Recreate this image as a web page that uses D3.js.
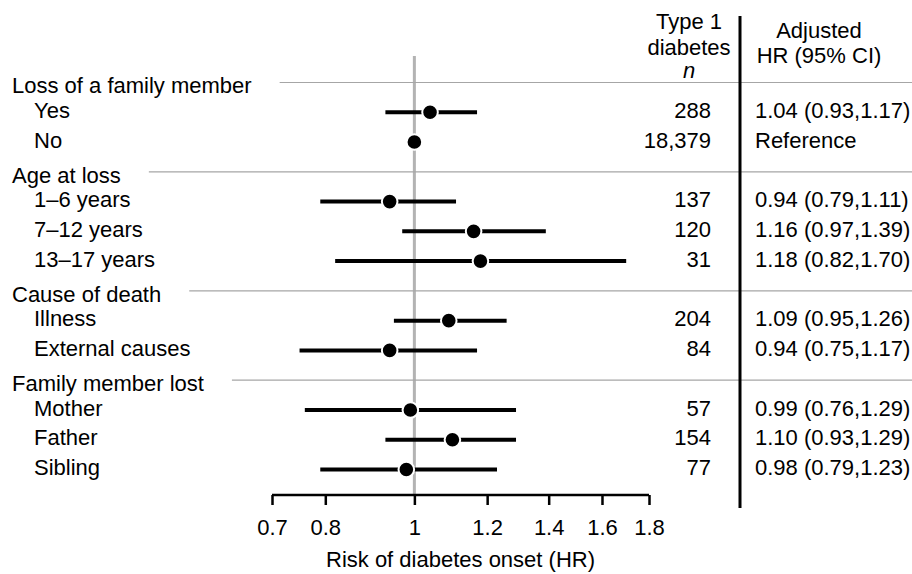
<!DOCTYPE html>
<html>
<head>
<meta charset="utf-8">
<script src="https://cdn.jsdelivr.net/npm/d3@7"></script>
<style>
  html, body { margin: 0; padding: 0; background: #fff; }
  svg text { font-family: "Liberation Sans", Arial, sans-serif; fill: #000; }
</style>
</head>
<body>
<svg id="chart" width="912" height="574"></svg>
<script>
// group headings and the rows under them
const groups = ['Loss of a family member', 'Age at loss', 'Cause of death', 'Family member lost'];
const categories = ['Yes', 'No', '1–6 years', '7–12 years', '13–17 years',
  'Illness', 'External causes', 'Mother', 'Father', 'Sibling'];
const categoryGroup = [0, 0, 1, 1, 1, 2, 2, 3, 3, 3];
const nCases = [288, 18379, 137, 120, 31, 204, 84, 57, 154, 77];
const hr = [1.04, 1.00, 0.94, 1.16, 1.18, 1.09, 0.94, 0.99, 1.10, 0.98];
const ciLow = [0.93, null, 0.79, 0.97, 0.82, 0.95, 0.75, 0.76, 0.93, 0.79];
const ciHigh = [1.17, null, 1.11, 1.39, 1.70, 1.26, 1.17, 1.29, 1.29, 1.23];
const isReference = [false, true, false, false, false, false, false, false, false, false];
const xTicks = [0.7, 0.8, 1, 1.2, 1.4, 1.6, 1.8];

const width = 912;
const fontSize = 22;

// flatten into display rows: heading then its categories
const rows = [];
groups.forEach((g, gi) => {
  rows.push({ header: true, label: g });
  categories.forEach((c, i) => {
    if (categoryGroup[i] === gi) {
      rows.push({ header: false, label: c, n: nCases[i], hr: hr[i],
        lo: ciLow[i], hi: ciHigh[i], ref: isReference[i] });
    }
  });
});

const svg = d3.select('#chart');

const x = d3.scaleLog().domain([0.7, 1.8]).range([272, 649]);
const y = d3.scalePoint().domain(d3.range(rows.length)).range([82.5, 469.5]);

const axisY = 495;
const nX = 711;
const dividerX = 740;
const hrX = 755;

// column headers
const nHead = svg.append('text')
  .attr('text-anchor', 'middle')
  .style('font-size', fontSize + 'px');
nHead.append('tspan').attr('x', 689).attr('y', 29).text('Type 1');
nHead.append('tspan').attr('x', 689).attr('y', 55).text('diabetes');
nHead.append('tspan').attr('x', 689).attr('y', 78).style('font-style', 'italic').text('n');

const hrHead = svg.append('text')
  .attr('text-anchor', 'middle')
  .style('font-size', fontSize + 'px');
hrHead.append('tspan').attr('x', 819).attr('y', 38).text('Adjusted');
hrHead.append('tspan').attr('x', 819).attr('y', 63).text('HR (95% CI)');

// reference line at HR = 1
svg.append('line')
  .attr('x1', x(1)).attr('x2', x(1))
  .attr('y1', 56).attr('y2', axisY)
  .attr('stroke', '#b3b3b3')
  .attr('stroke-width', 3);

// group headings with rule lines
const rowG = svg.selectAll('.row')
  .data(rows)
  .enter()
  .append('g')
  .attr('class', 'row');

rowG.filter(d => d.header).each(function(d) {
  const idx = rows.indexOf(d);
  const g = d3.select(this);
  const t = g.append('text')
    .attr('x', 12)
    .attr('y', y(idx) + 3)
    .attr('dy', '0.35em')
    .style('font-size', fontSize + 'px')
    .text(d.label);
  const w = t.node().getComputedTextLength();
  g.insert('line', 'text')
    .attr('x1', 12 + w + 28)
    .attr('x2', width)
    .attr('y1', y(idx)).attr('y2', y(idx))
    .attr('stroke', '#a6a6a6')
    .attr('stroke-width', 1.2);
});

const items = rowG.filter(d => !d.header);

items.append('text')
  .attr('x', 34)
  .attr('y', d => y(rows.indexOf(d)) - 2)
  .attr('dy', '0.35em')
  .style('font-size', fontSize + 'px')
  .text(d => d.label);

// confidence intervals
items.filter(d => d.lo != null)
  .append('line')
  .attr('x1', d => x(d.lo))
  .attr('x2', d => x(d.hi))
  .attr('y1', d => y(rows.indexOf(d)))
  .attr('y2', d => y(rows.indexOf(d)))
  .attr('stroke', '#000')
  .attr('stroke-width', 4);

items.append('circle')
  .attr('cx', d => x(d.hr))
  .attr('cy', d => y(rows.indexOf(d)))
  .attr('r', 7.8)
  .attr('fill', '#000')
  .attr('stroke', '#fff')
  .attr('stroke-width', 2);

// n column
const fmtN = d3.format(',');
items.append('text')
  .attr('x', nX)
  .attr('y', d => y(rows.indexOf(d)) - 2)
  .attr('dy', '0.35em')
  .attr('text-anchor', 'end')
  .style('font-size', fontSize + 'px')
  .text(d => fmtN(d.n));

// HR column
const f2 = d3.format('.2f');
items.append('text')
  .attr('x', hrX)
  .attr('y', d => y(rows.indexOf(d)) - 2)
  .attr('dy', '0.35em')
  .style('font-size', fontSize + 'px')
  .text(d => d.ref ? 'Reference' : `${f2(d.hr)} (${f2(d.lo)},${f2(d.hi)})`);

// divider between n and HR columns
svg.append('line')
  .attr('x1', dividerX).attr('x2', dividerX)
  .attr('y1', 16).attr('y2', 508)
  .attr('stroke', '#000')
  .attr('stroke-width', 3);

// x axis
const axis = d3.axisBottom(x)
  .tickValues(xTicks)
  .tickFormat(d3.format('~g'))
  .tickSize(10)
  .tickSizeOuter(0)
  .tickPadding(14);

const axG = svg.append('g')
  .attr('transform', `translate(0, ${axisY})`)
  .call(axis);

axG.select('.domain')
  .attr('stroke', '#000')
  .attr('stroke-width', 2.5)
  .attr('d', `M${x(0.7)},0H${x(1.8)}`);
axG.selectAll('.tick line')
  .attr('stroke', '#000')
  .attr('stroke-width', 2.5);
axG.selectAll('.tick text')
  .style('font-size', fontSize + 'px')
  .style('font-family', '"Liberation Sans", Arial, sans-serif')
  .attr('fill', '#000');

svg.append('text')
  .attr('x', (x(0.7) + x(1.8)) / 2)
  .attr('y', 567)
  .attr('text-anchor', 'middle')
  .style('font-size', fontSize + 'px')
  .text('Risk of diabetes onset (HR)');
</script>
</body>
</html>
